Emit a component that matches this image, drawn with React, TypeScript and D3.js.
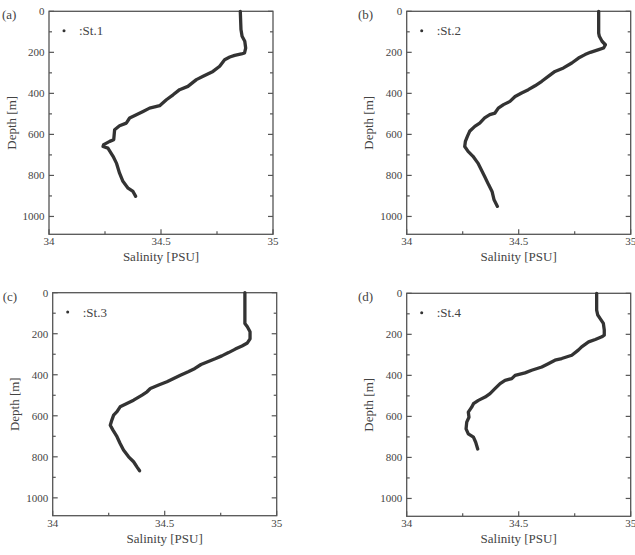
import React from 'react';
import * as d3 from 'd3';

// salinity profiles, depth [m] / salinity [PSU]
const st1Depth = [0, 89, 122, 146, 179, 203, 208, 215, 223, 236, 268, 293, 317, 333, 366, 382, 407, 431, 460, 472, 488, 504, 520, 545, 558, 577, 626, 634, 650, 659, 667, 707, 740, 789, 829, 862, 878, 902];
const st1Salinity = [34.854, 34.857, 34.862, 34.874, 34.878, 34.873, 34.859, 34.829, 34.807, 34.784, 34.762, 34.732, 34.688, 34.658, 34.62, 34.583, 34.554, 34.524, 34.494, 34.449, 34.42, 34.39, 34.36, 34.345, 34.315, 34.293, 34.289, 34.271, 34.244, 34.241, 34.263, 34.286, 34.301, 34.315, 34.33, 34.353, 34.375, 34.387];

const st2Depth = [0, 106, 122, 146, 163, 179, 187, 200, 211, 228, 252, 276, 293, 317, 341, 363, 382, 398, 415, 439, 455, 472, 496, 504, 520, 545, 561, 585, 610, 634, 659, 683, 707, 740, 772, 805, 846, 878, 919, 951];
const st2Salinity = [34.857, 34.857, 34.86, 34.872, 34.887, 34.879, 34.857, 34.82, 34.796, 34.767, 34.737, 34.7, 34.662, 34.632, 34.603, 34.573, 34.543, 34.513, 34.484, 34.461, 34.432, 34.409, 34.394, 34.371, 34.348, 34.326, 34.304, 34.281, 34.271, 34.262, 34.259, 34.274, 34.296, 34.318, 34.333, 34.348, 34.366, 34.381, 34.39, 34.405];

const st3Depth = [0, 150, 166, 190, 225, 245, 260, 275, 292, 308, 322, 335, 350, 369, 385, 402, 418, 434, 450, 467, 483, 499, 524, 540, 556, 580, 597, 621, 646, 670, 702, 735, 767, 800, 824, 849, 868];
const st3Salinity = [34.858, 34.858, 34.869, 34.881, 34.881, 34.869, 34.845, 34.815, 34.785, 34.755, 34.725, 34.695, 34.662, 34.635, 34.605, 34.57, 34.54, 34.51, 34.473, 34.436, 34.421, 34.399, 34.361, 34.331, 34.301, 34.287, 34.272, 34.264, 34.257, 34.269, 34.287, 34.301, 34.316, 34.339, 34.361, 34.376, 34.388];

const st4Depth = [0, 82, 106, 122, 147, 179, 204, 212, 225, 237, 261, 277, 302, 318, 326, 343, 359, 375, 388, 400, 416, 424, 440, 465, 489, 506, 522, 538, 555, 579, 604, 628, 661, 685, 701, 726, 759];
const st4Salinity = [34.848, 34.848, 34.853, 34.863, 34.878, 34.882, 34.882, 34.871, 34.842, 34.812, 34.781, 34.766, 34.737, 34.692, 34.662, 34.632, 34.603, 34.558, 34.528, 34.484, 34.469, 34.439, 34.417, 34.394, 34.372, 34.35, 34.32, 34.298, 34.29, 34.275, 34.278, 34.268, 34.265, 34.275, 34.298, 34.308, 34.317];

const stationNames = [':St.1', ':St.2', ':St.3', ':St.4'];
const panelLabels = ['(a)', '(b)', '(c)', '(d)'];
const salTicks = [34, 34.5, 35];
const salMinor = [34.25, 34.75];
const depthTicks = [0, 200, 400, 600, 800, 1000];
const depthMinor = [100, 300, 500, 700, 900];

const profiles = [
  { depth: st1Depth, sal: st1Salinity },
  { depth: st2Depth, sal: st2Salinity },
  { depth: st3Depth, sal: st3Salinity },
  { depth: st4Depth, sal: st4Salinity },
];

const W = 635;
const H = 555;
const plotW = 224;
const plotH = 223;
const panelPos = [
  { left: 49, top: 11.3, labelX: 2 },
  { left: 406.7, top: 11.3, labelX: 358 },
  { left: 52.7, top: 292.7, labelX: 2.7 },
  { left: 406.7, top: 293.3, labelX: 358 },
];

const font = "'Liberation Serif', 'Times New Roman', Times, serif";
const axisColor = '#555';
const textColor = '#444';

const Panel = ({ i }: { i: number }) => {
  const { left, top, labelX } = panelPos[i];
  const right = left + plotW;
  const bottom = top + plotH;
  const x = d3.scaleLinear().domain([34, 35]).range([left, right]);
  const y = d3.scaleLinear().domain([0, 1087]).range([top, bottom]);
  const p = profiles[i];
  const pts = p.depth.map((d, k) => [p.sal[k], d] as [number, number]);
  const line = d3.line<[number, number]>().x(d => x(d[0])).y(d => y(d[1]));

  return (
    <g>
      <text x={labelX} y={top + 8} fontSize={13} fill={textColor}>{panelLabels[i]}</text>
      <rect x={left} y={top} width={plotW} height={plotH} fill="none" stroke={axisColor} strokeWidth={1.3} />
      {depthTicks.map(t => (
        <g key={'dt' + t}>
          <line x1={left} x2={left + 5} y1={y(t)} y2={y(t)} stroke={axisColor} strokeWidth={1.2} />
          <line x1={right - 5} x2={right} y1={y(t)} y2={y(t)} stroke={axisColor} strokeWidth={1.2} />
          <text x={left - 4.5} y={y(t) + 3.8} textAnchor="end" fontSize={11} fill={textColor}>{t}</text>
        </g>
      ))}
      {depthMinor.map(t => (
        <g key={'dm' + t}>
          <line x1={left} x2={left + 3} y1={y(t)} y2={y(t)} stroke={axisColor} strokeWidth={1.2} />
          <line x1={right - 3} x2={right} y1={y(t)} y2={y(t)} stroke={axisColor} strokeWidth={1.2} />
        </g>
      ))}
      {salTicks.map(t => (
        <g key={'st' + t}>
          <line x1={x(t)} x2={x(t)} y1={bottom} y2={bottom - 5} stroke={axisColor} strokeWidth={1.2} />
          <text x={x(t)} y={bottom + 11} textAnchor="middle" fontSize={11} fill={textColor}>{t}</text>
        </g>
      ))}
      {salMinor.map(t => (
        <line key={'sm' + t} x1={x(t)} x2={x(t)} y1={bottom} y2={bottom - 3} stroke={axisColor} strokeWidth={1.2} />
      ))}
      <text x={(left + right) / 2} y={bottom + 27} textAnchor="middle" fontSize={13} fill={textColor}>Salinity [PSU]</text>
      <text transform={`translate(${left - 33.5},${(top + bottom) / 2}) rotate(-90)`} textAnchor="middle" fontSize={13} fill={textColor}>Depth [m]</text>
      <circle cx={left + 15} cy={top + 19.4} r={1.5} fill="#333" />
      <text x={left + 30} y={top + 24} fontSize={13} fill={textColor}>{stationNames[i]}</text>
      <path d={line(pts) || ''} fill="none" stroke="#333" strokeWidth={3.3} strokeLinejoin="round" strokeLinecap="round" />
    </g>
  );
};

export default function App() {
  return (
    <svg width={W} height={H} fontFamily={font} style={{ position: 'absolute', left: 0, top: 0, background: '#fff' }}>
      <rect width={W} height={H} fill="#fff" />
      {[0, 1, 2, 3].map(i => <Panel key={i} i={i} />)}
    </svg>
  );
}
